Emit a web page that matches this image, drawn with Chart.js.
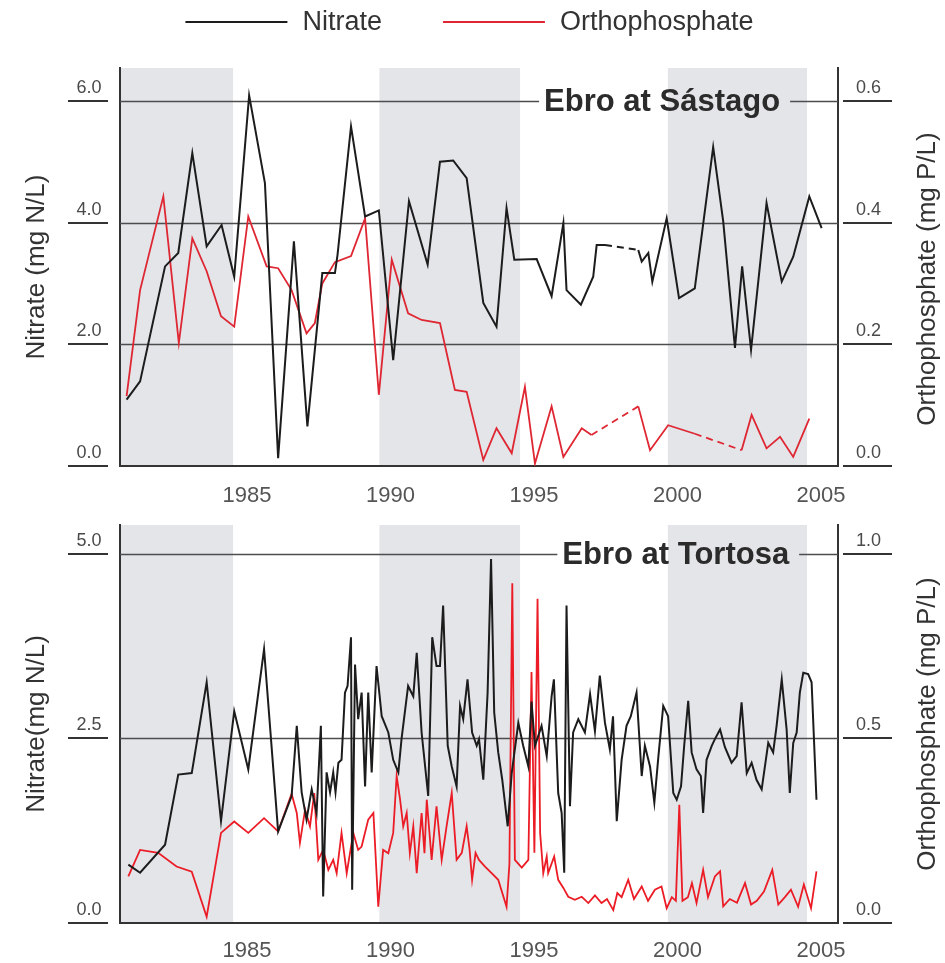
<!DOCTYPE html>
<html>
<head>
<meta charset="utf-8">
<title>Ebro nitrate and orthophosphate</title>
<script src="https://cdn.jsdelivr.net/npm/chart.js@4.4.1/dist/chart.umd.min.js"></script>
<style>
  html, body { margin: 0; padding: 0; background: #fff; }
  #wrap { position: relative; width: 945px; height: 963px; }
  canvas { position: absolute; left: 0; }
  #sastago { top: 0; }
  #tortosa { top: 510px; }
</style>
</head>
<body>
<div id="wrap">
  <canvas id="sastago" width="945" height="510"></canvas>
  <canvas id="tortosa" width="945" height="453"></canvas>
</div>
<script>
// x axis labels and the shaded periods (years)
const yearTicks = [1985, 1990, 1995, 2000, 2005];
const shadedPeriods = [[1981, 1985], [1990.1, 1995], [2000.15, 2005]];

// Ebro at Sástago
const sastagoNYears = [
  1981.29, 1981.76, 1982.63, 1983.09, 1983.58, 1984.08, 1984.60, 1985.04, 1985.56, 1986.11,
  1986.57, 1987.12, 1987.59, 1988.11, 1988.55, 1988.64, 1989.11, 1989.60, 1990.08, 1990.58,
  1991.13, 1991.78, 1992.21, 1992.67, 1993.14, 1993.72, 1994.18, 1994.53, 1994.80, 1995.58,
  1996.10, 1996.51, 1996.62, 1997.12, 1997.55, 1997.67, 1997.96, 1999.12, 1999.24, 1999.47,
  1999.61, 2000.11, 2000.54, 2001.09, 2001.73, 2002.08, 2002.49, 2002.74, 2003.05, 2003.59,
  2004.12, 2004.52, 2005.08, 2005.51
];
const sastagoNitrate = [
  1.09, 1.39, 3.28, 3.50, 5.14, 3.61, 3.96, 3.11, 6.09, 4.65,
  0.13, 3.69, 0.65, 3.17, 3.17, 3.47, 5.58, 4.10, 4.20, 1.74,
  4.35, 3.31, 5.00, 5.02, 4.73, 2.68, 2.29, 4.24, 3.39, 3.40,
  2.79, 3.99, 2.89, 2.65, 3.11, 3.63, 3.63, 3.55, 3.36, 3.50,
  3.03, 4.07, 2.76, 2.92, 5.24, 4.02, 1.94, 3.28, 1.91, 4.32,
  3.03, 3.44, 4.43, 3.91
];
const sastagoPYears = [
  1981.29, 1981.76, 1982.57, 1983.11, 1983.58, 1984.08, 1984.58, 1985.04, 1985.53, 1986.17,
  1986.57, 1987.04, 1987.56, 1987.85, 1988.11, 1988.55, 1989.11, 1989.60, 1990.08, 1990.53,
  1991.10, 1991.57, 1992.21, 1992.73, 1993.14, 1993.72, 1994.18, 1994.71, 1995.17, 1995.52,
  1996.10, 1996.51, 1997.15, 1997.49, 1999.12, 1999.53, 2000.16, 2001.09, 2002.72, 2003.07,
  2003.59, 2004.06, 2004.52, 2005.08
];
const sastagoPhosphate = [
  0.115, 0.289, 0.443, 0.202, 0.374, 0.320, 0.246, 0.229, 0.410, 0.328,
  0.325, 0.289, 0.218, 0.235, 0.300, 0.335, 0.345, 0.407, 0.117, 0.339,
  0.251, 0.240, 0.235, 0.125, 0.122, 0.010, 0.062, 0.021, 0.130, 0.004,
  0.098, 0.015, 0.062, 0.051, 0.098, 0.026, 0.067, 0.053, 0.026, 0.084,
  0.029, 0.048, 0.015, 0.078
];

// Ebro at Tortosa
const tortosaNYears = [
  1981.35, 1981.76, 1982.63, 1983.09, 1983.56, 1984.08, 1984.58, 1985.04, 1985.53, 1986.08,
  1986.57, 1987.04, 1987.22, 1987.39, 1987.56, 1987.74, 1987.91, 1988.06, 1988.14, 1988.26,
  1988.38, 1988.49, 1988.57, 1988.67, 1988.78, 1988.90, 1988.99, 1989.11, 1989.15, 1989.25,
  1989.36, 1989.48, 1989.60, 1989.71, 1989.83, 1990.00, 1990.18, 1990.41, 1990.58, 1990.76,
  1990.87, 1991.10, 1991.28, 1991.40, 1991.57, 1991.80, 1991.94, 1992.09, 1992.21, 1992.32,
  1992.48, 1992.62, 1992.79, 1992.91, 1993.02, 1993.17, 1993.33, 1993.49, 1993.57, 1993.72,
  1993.87, 1993.99, 1994.10, 1994.24, 1994.38, 1994.57, 1994.71, 1994.94, 1995.11, 1995.29,
  1995.40, 1995.52, 1995.75, 1995.93, 1996.10, 1996.18, 1996.33, 1996.45, 1996.54, 1996.62,
  1996.74, 1996.85, 1997.03, 1997.26, 1997.44, 1997.61, 1997.78, 1997.96, 1998.13, 1998.24,
  1998.37, 1998.54, 1998.71, 1998.86, 1999.06, 1999.24, 1999.35, 1999.53, 1999.68, 1999.82,
  1999.99, 2000.16, 2000.34, 2000.46, 2000.61, 2000.72, 2000.86, 2000.98, 2001.15, 2001.30,
  2001.38, 2001.50, 2001.68, 2001.79, 2001.97, 2002.14, 2002.37, 2002.55, 2002.72, 2002.90,
  2003.07, 2003.24, 2003.42, 2003.65, 2003.82, 2003.94, 2004.12, 2004.29, 2004.40, 2004.52,
  2004.64, 2004.75, 2004.87, 2005.04, 2005.16, 2005.33
];
const tortosaNitrate = [
  0.79, 0.68, 1.06, 2.01, 2.03, 3.26, 1.38, 2.87, 2.08, 3.71,
  1.24, 1.72, 2.67, 1.77, 1.40, 1.81, 1.49, 2.67, 0.36, 2.04,
  1.77, 2.04, 1.77, 2.17, 2.21, 3.12, 3.21, 3.87, 0.45, 3.50,
  2.76, 3.12, 1.85, 3.12, 2.04, 3.48, 2.80, 2.58, 2.21, 2.04,
  2.49, 3.21, 3.07, 3.66, 2.58, 1.72, 3.87, 3.48, 3.48, 4.30,
  2.40, 2.12, 1.85, 2.94, 2.76, 3.30, 2.58, 2.40, 2.49, 1.94,
  3.12, 4.93, 2.85, 2.31, 1.94, 1.31, 2.03, 2.71, 2.40, 2.12,
  3.00, 2.40, 2.67, 2.26, 3.07, 3.30, 1.76, 1.49, 0.68, 4.30,
  1.58, 2.58, 2.76, 2.58, 3.10, 2.60, 3.35, 2.71, 2.35, 2.80,
  1.38, 2.21, 2.67, 2.80, 3.12, 1.99, 2.40, 2.12, 1.63, 2.25,
  2.94, 2.80, 1.76, 1.67, 1.85, 2.40, 3.01, 2.31, 2.08, 1.99,
  1.49, 2.21, 2.40, 2.49, 2.62, 2.38, 2.17, 2.26, 2.99, 2.03,
  2.17, 1.94, 1.81, 2.44, 2.31, 2.67, 3.30, 2.62, 1.76, 2.44,
  2.58, 3.12, 3.39, 3.37, 3.26, 1.67
];
const tortosaPYears = [
  1981.35, 1981.76, 1982.39, 1983.03, 1983.56, 1984.08, 1984.58, 1985.04, 1985.53, 1986.08,
  1986.57, 1987.04, 1987.22, 1987.33, 1987.51, 1987.68, 1987.83, 1987.97, 1988.14, 1988.32,
  1988.49, 1988.61, 1988.78, 1988.96, 1989.19, 1989.36, 1989.48, 1989.71, 1989.89, 1990.06,
  1990.23, 1990.41, 1990.58, 1990.70, 1990.82, 1990.93, 1991.05, 1991.16, 1991.28, 1991.40,
  1991.57, 1991.67, 1991.75, 1991.92, 1992.09, 1992.27, 1992.44, 1992.62, 1992.79, 1992.97,
  1993.14, 1993.24, 1993.33, 1993.45, 1993.57, 1993.78, 1994.01, 1994.24, 1994.53, 1994.63,
  1994.73, 1994.82, 1995.06, 1995.29, 1995.40, 1995.50, 1995.61, 1995.70, 1995.81, 1995.93,
  1995.98, 1996.19, 1996.33, 1996.51, 1996.68, 1996.91, 1997.15, 1997.38, 1997.61, 1997.84,
  1998.03, 1998.25, 1998.39, 1998.54, 1998.77, 1998.97, 1999.24, 1999.46, 1999.70, 1999.93,
  2000.11, 2000.29, 2000.43, 2000.55, 2000.66, 2000.85, 2000.99, 2001.15, 2001.38, 2001.55,
  2001.79, 2001.97, 2002.08, 2002.31, 2002.56, 2002.84, 2003.05, 2003.25, 2003.50, 2003.79,
  2004.00, 2004.23, 2004.44, 2004.69, 2004.89, 2005.14, 2005.33
];
const tortosaPhosphate = [
  0.126, 0.198, 0.190, 0.153, 0.139, 0.017, 0.244, 0.275, 0.244, 0.284,
  0.248, 0.350, 0.298, 0.217, 0.307, 0.262, 0.352, 0.171, 0.198, 0.144,
  0.171, 0.135, 0.244, 0.135, 0.244, 0.198, 0.207, 0.280, 0.298, 0.044,
  0.198, 0.189, 0.244, 0.398, 0.334, 0.262, 0.298, 0.189, 0.262, 0.135,
  0.298, 0.189, 0.334, 0.171, 0.316, 0.171, 0.262, 0.352, 0.171, 0.190,
  0.262, 0.200, 0.117, 0.190, 0.171, 0.153, 0.135, 0.117, 0.044, 0.160,
  0.920, 0.171, 0.150, 0.171, 0.680, 0.190, 0.878, 0.244, 0.135, 0.180,
  0.135, 0.180, 0.117, 0.095, 0.071, 0.063, 0.071, 0.054, 0.075, 0.054,
  0.065, 0.035, 0.081, 0.070, 0.117, 0.065, 0.099, 0.060, 0.090, 0.099,
  0.040, 0.070, 0.060, 0.320, 0.060, 0.070, 0.108, 0.054, 0.144, 0.070,
  0.126, 0.140, 0.045, 0.065, 0.055, 0.108, 0.050, 0.060, 0.085, 0.144,
  0.050, 0.070, 0.090, 0.044, 0.104, 0.040, 0.140
];

const FONT = '"Liberation Sans", Arial, Helvetica, sans-serif';
const INK = '#333';
const BAND = '#e3e5e9';
Chart.defaults.font.family = FONT;

const toPoints = (xs, ys) => xs.map((x, i) => ({ x: x, y: ys[i] }));

// draws shaded periods, grid lines, panel title, the underlined tick labels,
// the right-hand axis title and (top panel only) the legend
const panelDecor = {
  id: 'panelDecor',
  beforeDraw(chart) {
    const { ctx, chartArea: a, scales: { x } } = chart;
    ctx.save();
    ctx.fillStyle = BAND;
    shadedPeriods.forEach(([s, e]) => {
      const x0 = Math.max(x.getPixelForValue(s), a.left);
      const x1 = Math.min(x.getPixelForValue(e), a.right);
      if (x1 > x0) ctx.fillRect(x0, a.top, x1 - x0, a.bottom - a.top);
    });
    ctx.restore();
  },
  beforeDatasetsDraw(chart, args, opts) {
    const { ctx, chartArea: a, scales: { y } } = chart;
    ctx.save();
    ctx.font = 'bold 31px ' + FONT;
    const tw = ctx.measureText(opts.title).width;
    const tcx = a.left + (a.right - a.left) * opts.titlePos;
    const gap0 = tcx - tw / 2 - 5, gap1 = tcx + tw / 2 + 10;
    const topVal = y.ticks[y.ticks.length - 1].value;

    ctx.strokeStyle = '#4d4d4d';
    ctx.lineWidth = 1.5;
    y.ticks.forEach(t => {
      if (t.value === 0) return;
      const py = Math.round(y.getPixelForValue(t.value)) + 0.5;
      ctx.beginPath();
      if (t.value === topVal) {
        ctx.moveTo(a.left, py); ctx.lineTo(gap0, py);
        ctx.moveTo(gap1, py); ctx.lineTo(a.right, py);
      } else {
        ctx.moveTo(a.left, py); ctx.lineTo(a.right, py);
      }
      ctx.stroke();
    });

    const ty = y.getPixelForValue(topVal);
    ctx.fillStyle = '#2b2b2b';
    ctx.textAlign = 'center';
    ctx.textBaseline = 'alphabetic';
    ctx.fillText(opts.title, tcx, ty + 10);
    ctx.restore();
  },
  afterDraw(chart, args, opts) {
    const { ctx, chartArea: a, scales: { y, y1 } } = chart;
    ctx.save();
    ctx.strokeStyle = INK;
    ctx.lineWidth = 2;
    ctx.fillStyle = '#4a4a4a';
    ctx.font = '18px ' + FONT;
    ctx.textAlign = 'center';
    ctx.textBaseline = 'alphabetic';
    [[y, a.left - 52, a.left - 12], [y1, a.right + 5, a.right + 54]].forEach(([s, l0, l1]) => {
      s.ticks.forEach(t => {
        const py = Math.round(s.getPixelForValue(t.value));
        ctx.beginPath();
        ctx.moveTo(l0, py); ctx.lineTo(l1, py);
        ctx.stroke();
        ctx.fillText(t.value.toFixed(1), (l0 + l1) / 2 + 1, py - 8);
      });
    });

    // right axis title, reading bottom to top like the left one
    ctx.fillStyle = INK;
    ctx.font = '26px ' + FONT;
    ctx.textBaseline = 'middle';
    ctx.translate(a.right + 90, (a.top + a.bottom) / 2 + opts.rightTitleShift);
    ctx.rotate(-Math.PI / 2);
    ctx.fillText(opts.rightTitle, 0, 0);
    ctx.setTransform(1, 0, 0, 1, 0, 0);

    if (opts.legend) {
      ctx.font = '27px ' + FONT;
      ctx.textAlign = 'left';
      const lineLen = 102, gap = 15, itemGap = 61;
      const items = chart.data.datasets.map(d => ({ text: d.label, color: d.borderColor, w: ctx.measureText(d.label).width }));
      const total = items.reduce((s, it) => s + lineLen + gap + it.w, 0) + itemGap * (items.length - 1);
      let lx = (chart.width - total) / 2 - 3;
      const ly = 22;
      items.forEach(it => {
        ctx.strokeStyle = it.color;
        ctx.lineWidth = 2;
        ctx.beginPath();
        ctx.moveTo(lx, ly); ctx.lineTo(lx + lineLen, ly);
        ctx.stroke();
        ctx.fillStyle = INK;
        ctx.fillText(it.text, lx + lineLen + gap, ly + 1);
        lx += lineLen + gap + it.w + itemGap;
      });
    }
    ctx.restore();
  }
};

function makePanel(canvasId, cfg) {
  const dashLongGaps = { borderDash: c => (c.p1.parsed.x - c.p0.parsed.x > 1 ? [7, 5] : undefined) };
  return new Chart(document.getElementById(canvasId), {
    type: 'line',
    data: {
      datasets: [
        { label: 'Nitrate', data: cfg.nitrate, borderColor: '#1c1c1c', borderWidth: 2, yAxisID: 'y', segment: dashLongGaps },
        { label: 'Orthophosphate', data: cfg.phosphate, borderColor: cfg.red, borderWidth: 1.8, yAxisID: 'y1', segment: dashLongGaps }
      ]
    },
    options: {
      responsive: false,
      animation: false,
      devicePixelRatio: 1,
      layout: { padding: { top: cfg.padTop, left: 0, right: 0, bottom: 0 } },
      elements: { point: { radius: 0 }, line: { tension: 0 } },
      plugins: {
        legend: { display: false },
        tooltip: { enabled: false },
        panelDecor: { title: cfg.title, titlePos: cfg.titlePos, legend: cfg.legend, rightTitle: 'Orthophosphate (mg P/L)', rightTitleShift: cfg.rightTitleShift }
      },
      scales: {
        x: {
          type: 'linear', min: 1981.06, max: 2006.08,
          afterBuildTicks: s => { s.ticks = yearTicks.map(v => ({ value: v })); },
          afterFit: s => { s.height = cfg.xHeight; },
          grid: { display: false, drawTicks: false },
          border: { display: true, color: INK, width: 2 },
          ticks: { callback: v => String(v), labelOffset: 14, padding: cfg.xPad, maxRotation: 0, color: '#555', font: { size: 22 } }
        },
        y: {
          position: 'left', min: 0, max: cfg.nMax,
          afterBuildTicks: s => { s.ticks = cfg.nTicks.map(v => ({ value: v })); },
          afterFit: s => { s.width = 120; },
          grid: { display: false },
          border: { display: true, color: INK, width: 2 },
          ticks: { display: false },
          title: { display: true, text: cfg.nTitle, color: INK, font: { size: 26 }, padding: { top: 21, bottom: 0 } }
        },
        y1: {
          position: 'right', min: 0, max: cfg.pMax,
          afterBuildTicks: s => { s.ticks = cfg.pTicks.map(v => ({ value: v })); },
          afterFit: s => { s.width = 107; },
          grid: { display: false },
          border: { display: true, color: INK, width: 2 },
          ticks: { display: false }
        }
      }
    },
    plugins: [panelDecor]
  });
}

makePanel('sastago', {
  nitrate: toPoints(sastagoNYears, sastagoNitrate),
  phosphate: toPoints(sastagoPYears, sastagoPhosphate),
  red: '#df2733',
  title: 'Ebro at Sástago', titlePos: 0.755, legend: true,
  nTitle: 'Nitrate (mg N/L)', rightTitleShift: 12,
  nMax: 6.54, nTicks: [0, 2, 4, 6],
  pMax: 0.654, pTicks: [0, 0.2, 0.4, 0.6],
  padTop: 68, xHeight: 44, xPad: 17
});

makePanel('tortosa', {
  nitrate: toPoints(tortosaNYears, tortosaNitrate),
  phosphate: toPoints(tortosaPYears, tortosaPhosphate),
  red: '#ec1c26',
  title: 'Ebro at Tortosa', titlePos: 0.774, legend: false,
  nTitle: 'Nitrate(mg N/L)', rightTitleShift: 0,
  nMax: 5.39, nTicks: [0, 2.5, 5],
  pMax: 1.078, pTicks: [0, 0.5, 1],
  padTop: 15, xHeight: 40, xPad: 15
});
</script>
</body>
</html>
